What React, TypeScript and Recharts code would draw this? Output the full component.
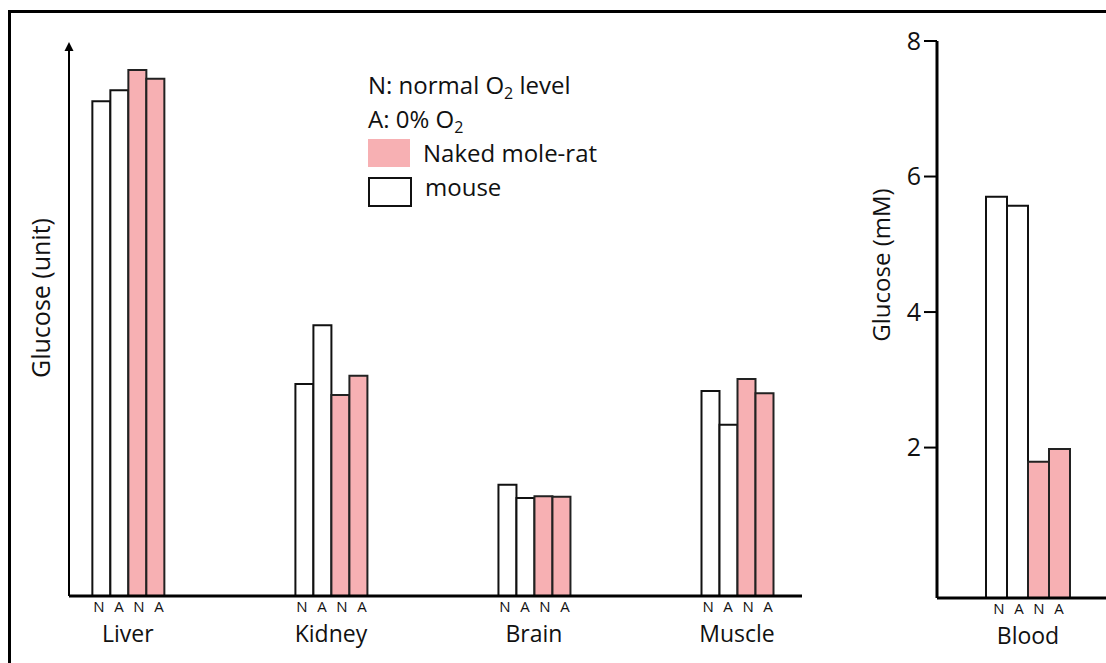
import React from "react";
import { BarChart, Bar, XAxis, YAxis, Legend } from "recharts";

// tissue glucose, arbitrary units
const TISSUES = ["Liver", "Kidney", "Brain", "Muscle"];
const MOUSE_N = [90.8, 38.9, 20.4, 37.6];
const MOUSE_A = [92.8, 49.7, 18.0, 31.4];
const MOLERAT_N = [96.5, 36.9, 18.3, 39.8];
const MOLERAT_A = [94.9, 40.4, 18.2, 37.2];

// blood glucose, mM
const BLOOD = ["Blood"];
const BLOOD_MOUSE_N = [5.7];
const BLOOD_MOUSE_A = [5.57];
const BLOOD_MOLERAT_N = [1.79];
const BLOOD_MOLERAT_A = [1.98];
const BLOOD_TICKS = [2, 4, 6, 8];
const BLOOD_MIN = -0.22;

const CONDITIONS = ["N", "A", "N", "A"];
const LETTER_DX = [-29, -9, 11, 31];

const PINK = "#F7B0B3";
const FONT = "'Open Sans', Lato, sans-serif";

const tissueData = TISSUES.map((t, i) => ({
  pos: i,
  tissue: t,
  mouseN: MOUSE_N[i],
  mouseA: MOUSE_A[i],
  moleratN: MOLERAT_N[i],
  moleratA: MOLERAT_A[i],
}));

const bloodData = BLOOD.map((t, i) => ({
  tissue: t,
  mouseN: [BLOOD_MIN, BLOOD_MOUSE_N[i]],
  mouseA: [BLOOD_MIN, BLOOD_MOUSE_A[i]],
  moleratN: [BLOOD_MIN, BLOOD_MOLERAT_N[i]],
  moleratA: [BLOOD_MIN, BLOOD_MOLERAT_A[i]],
}));

function GroupTick(props: any) {
  const { x, y, payload, names } = props;
  const name = names ? names[payload.value] : payload.value;
  return (
    <g>
      {CONDITIONS.map((c, i) => (
        <text
          key={i}
          x={x + LETTER_DX[i]}
          y={y + 16}
          textAnchor="middle"
          fontSize={15}
          fontFamily={FONT}
          fill="#111"
        >
          {c}
        </text>
      ))}
      <text
        x={x}
        y={y + 46}
        textAnchor="middle"
        fontSize={23}
        fontFamily={FONT}
        fill="#111"
      >
        {name}
      </text>
    </g>
  );
}

function AxisTitle({ viewBox, text, dx, dy, size }: any) {
  const cx = viewBox.x + dx;
  const cy = viewBox.y + dy;
  return (
    <text
      x={cx}
      y={cy}
      transform={`rotate(-90, ${cx}, ${cy})`}
      textAnchor="middle"
      dominantBaseline="central"
      fontSize={size}
      fontFamily={FONT}
      fill="#111"
    >
      {text}
    </text>
  );
}

const sub = { fontSize: 16, verticalAlign: "-5px", lineHeight: 0 } as const;

function KeyBox() {
  const row = { height: 34, lineHeight: "34px", display: "flex" } as const;
  return (
    <div style={{ fontFamily: FONT, fontSize: 24, color: "#111", whiteSpace: "nowrap" }}>
      <div style={row}>
        <span>
          N: normal O<span style={sub}>2</span> level
        </span>
      </div>
      <div style={row}>
        <span>
          A: 0% O<span style={sub}>2</span>
        </span>
      </div>
      <div style={row}>
        <div style={{ width: 42, height: 28, marginTop: 3, background: PINK }} />
        <span style={{ marginLeft: 13 }}>Naked mole-rat</span>
      </div>
      <div style={row}>
        <div
          style={{
            width: 40,
            height: 26,
            marginTop: 7,
            border: "2px solid #111",
            background: "#fff",
          }}
        />
        <span style={{ marginLeft: 13 }}>mouse</span>
      </div>
    </div>
  );
}

function barProps(fill: string) {
  return {
    fill,
    stroke: fill === PINK ? "#222" : "#111",
    strokeWidth: 2,
    isAnimationActive: false,
  };
}

export default function App() {
  return (
    <div
      style={{
        position: "fixed",
        left: 0,
        top: 0,
        width: 1106,
        height: 663,
        overflow: "hidden",
        background: "#fff",
      }}
    >
      <div
        style={{
          position: "absolute",
          left: 8,
          top: 10,
          width: 1200,
          height: 700,
          borderLeft: "3.5px solid #000",
          borderTop: "3.5px solid #000",
        }}
      />

      <div style={{ position: "absolute", left: 0, top: 0 }}>
        <BarChart
          width={840}
          height={663}
          data={tissueData}
          margin={{ top: 51, right: 38, left: 9, bottom: 37 }}
          barSize={18}
          barGap={0}
        >
          <defs>
            <marker
              id="arrowUp"
              markerUnits="userSpaceOnUse"
              markerWidth={12}
              markerHeight={12}
              viewBox="-6 -11 12 12"
              refX={0}
              refY={0}
              orient="0"
            >
              <path d="M0,-9 L-4.5,0 L4.5,0 Z" fill="#000" />
            </marker>
          </defs>
          <XAxis
            dataKey="pos"
            type="number"
            domain={[-0.29, 3.32]}
            ticks={[0, 1, 2, 3]}
            allowDataOverflow
            tickLine={false}
            tickSize={0}
            tickMargin={0}
            axisLine={{ stroke: "#000", strokeWidth: 3 }}
            tick={(p: any) => <GroupTick {...p} names={TISSUES} />}
          />
          <YAxis
            domain={[0, 100]}
            allowDataOverflow
            tick={false}
            tickLine={false}
            axisLine={{ stroke: "#000", strokeWidth: 2, markerStart: "url(#arrowUp)" }}
            label={{
              content: (p: any) => (
                <AxisTitle {...p} text="Glucose (unit)" dx={31} dy={247} size={25} />
              ),
            }}
          />
          <Legend
            layout="vertical"
            verticalAlign="middle"
            align="center"
            content={() => <KeyBox />}
            wrapperStyle={{ left: 368, top: 68, width: 300 }}
          />
          <Bar dataKey="mouseN" {...barProps("#fff")} />
          <Bar dataKey="mouseA" {...barProps("#fff")} />
          <Bar dataKey="moleratN" {...barProps(PINK)} />
          <Bar dataKey="moleratA" {...barProps(PINK)} />
        </BarChart>
      </div>

      <div style={{ position: "absolute", left: 830, top: 0 }}>
        <BarChart
          width={300}
          height={663}
          data={bloodData}
          margin={{ top: 41, right: 11, left: 47, bottom: 35 }}
          barSize={21}
          barGap={0}
        >
          <XAxis
            dataKey="tissue"
            tickLine={false}
            tickSize={0}
            tickMargin={0}
            axisLine={{ stroke: "#000", strokeWidth: 3 }}
            tick={(p: any) => <GroupTick {...p} />}
          />
          <YAxis
            domain={[BLOOD_MIN, 8]}
            ticks={BLOOD_TICKS}
            allowDataOverflow
            tickSize={13}
            tickMargin={3}
            tick={{ fontSize: 25, fill: "#111", fontFamily: FONT }}
            tickLine={{ stroke: "#000", strokeWidth: 2 }}
            axisLine={{ stroke: "#000", strokeWidth: 3 }}
            label={{
              content: (p: any) => (
                <AxisTitle {...p} text="Glucose (mM)" dx={3} dy={224} size={24} />
              ),
            }}
          />
          <Bar dataKey="mouseN" {...barProps("#fff")} />
          <Bar dataKey="mouseA" {...barProps("#fff")} />
          <Bar dataKey="moleratN" {...barProps(PINK)} />
          <Bar dataKey="moleratA" {...barProps(PINK)} />
        </BarChart>
      </div>
    </div>
  );
}
